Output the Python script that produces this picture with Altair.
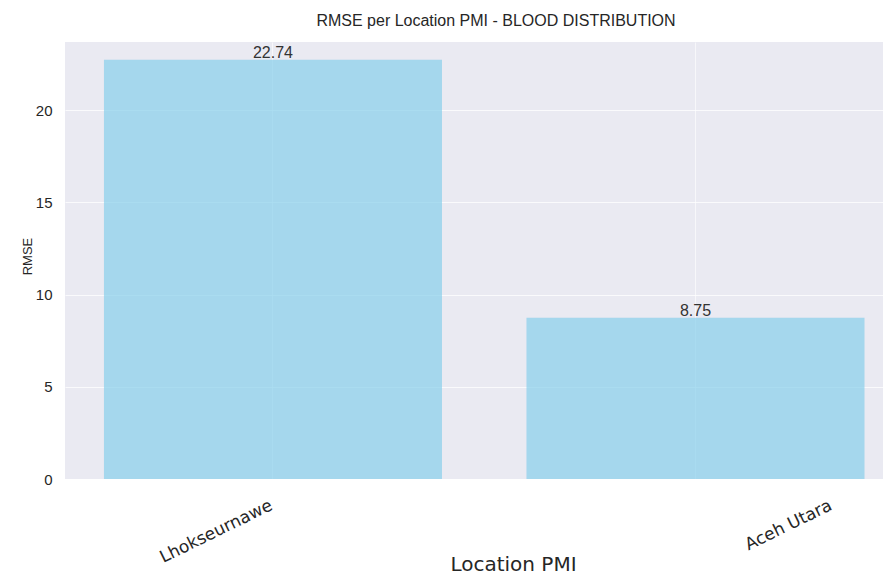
import altair as alt
import pandas as pd

locations = ["Lhokseurnawe", "Aceh Utara"]
rmse = [22.74, 8.75]
y_ticks = [0, 5, 10, 15, 20]

df = pd.DataFrame({"location": locations, "rmse": rmse})
df["label"] = [f"{v:.2f}" for v in rmse]

TXT = "#262626"

x_enc = alt.X(
    "location:N",
    sort=locations,
    scale=alt.Scale(paddingInner=0.2, paddingOuter=0.068, align=0.678),
    axis=alt.Axis(
        title="Location PMI",
        titleFont="DejaVu Sans",
        titleFontSize=20,
        titleFontWeight="normal",
        titleColor=TXT,
        titleX=448,
        titleY=85,
        titleAlign="center",
        titleBaseline="middle",
        labelFont="DejaVu Sans",
        labelFontSize=17,
        labelColor=TXT,
        labelAngle=334,
        labelAlign="right",
        labelBaseline="top",
        labelPadding=18,
        labelOffset={"condition": {"test": "datum.value === 'Aceh Utara'", "value": 132}, "value": -5},
        labelOverlap=False,
        labelBound=False,
        ticks=False,
        domain=False,
        grid=True,
        gridColor="white",
        gridOpacity=0.6,
        gridWidth=1,
        bandPosition=0.5,
    ),
)

y_enc = alt.Y(
    "rmse:Q",
    scale=alt.Scale(domain=[0, 23.7], nice=False, zero=True),
    axis=alt.Axis(
        title="RMSE",
        values=y_ticks,
        titleFont="Liberation Sans Narrow, Liberation Sans",
        titleFontSize=13,
        titleFontWeight="normal",
        titleColor=TXT,
        titleAngle=270,
        titleX=-37.5,
        titleY=214,
        titleAlign="center",
        titleBaseline="middle",
        labelFont="Liberation Sans",
        labelFontSize=15,
        labelColor=TXT,
        labelPadding=13,
        ticks=False,
        domain=False,
        grid=True,
        gridColor="white",
        gridOpacity=0.75,
        gridWidth=1,
    ),
)

bars = alt.Chart(df).mark_bar(color="#87CEEB", opacity=0.7).encode(x=x_enc, y=y_enc)

texts = alt.Chart(df).mark_text(
    baseline="alphabetic", dy=-2, font="Liberation Sans", fontSize=16, color="#333333"
).encode(x=alt.X("location:N", sort=locations), y="rmse:Q", text="label:N")

chart = (
    alt.layer(bars, texts)
    .properties(
        width=818,
        height=437,
        autosize=alt.AutoSizeParams(type="none"),
        padding={"left": 57, "top": 34, "right": 0, "bottom": 100},
        background="white",
        title=alt.TitleParams(
            "RMSE per Location PMI - BLOOD DISTRIBUTION",
            font="Liberation Sans",
            fontSize=16,
            fontWeight="normal",
            color=TXT,
            anchor="middle",
            frame="group",
            dx=22,
            offset=0,
            baseline="alphabetic",
        ),
    )
    .configure_view(fill="#EAEAF2", stroke=None)
)

chart.save("out.html", embed_options={"renderer": "svg", "actions": False})
